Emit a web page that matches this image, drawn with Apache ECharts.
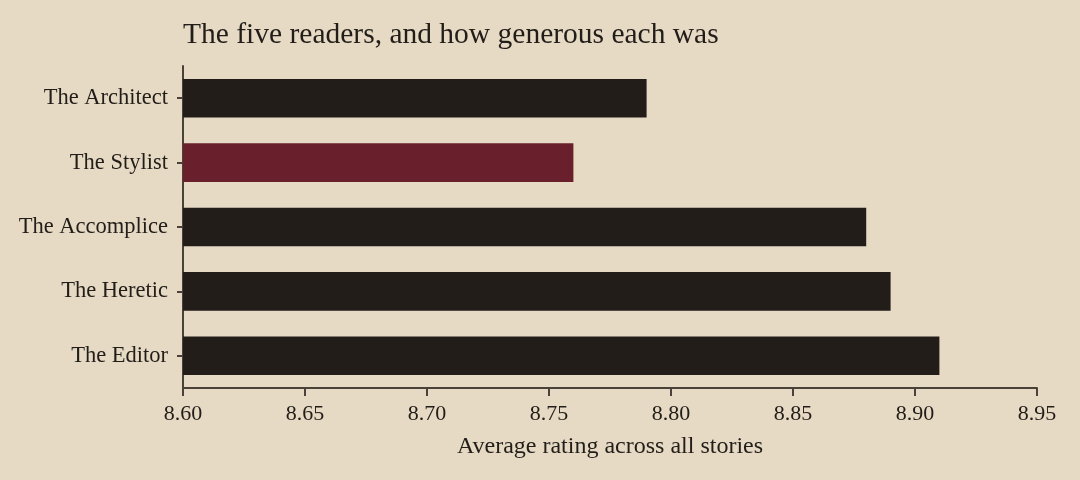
<!DOCTYPE html>
<html style="height: 100%">
<head>
  <meta charset="utf-8">
  <script src="https://cdn.jsdelivr.net/npm/echarts@6/dist/echarts.min.js"></script>
</head>
<body style="height: 100%; margin: 0; background: #e6dac4">
  <div id="container" style="width: 1080px; height: 480px"></div>
  <script type="text/javascript">
var readers = ['The Architect', 'The Stylist', 'The Accomplice', 'The Heretic', 'The Editor'];
var ratings = [8.79, 8.76, 8.88, 8.89, 8.91];
var highlight = 'The Stylist';

var fontFamily = 'Liberation Serif, serif';
var ink = '#221d18';
var axisColor = '#4a4239';

var chart = echarts.init(document.getElementById('container'));
chart.setOption({
    backgroundColor: '#e6dac4',
    animation: false,
    title: {
        text: 'The five readers, and how generous each was',
        left: 178,
        top: 15,
        textStyle: { fontFamily: fontFamily, fontSize: 29.5, fontWeight: 'normal', color: ink }
    },
    grid: { left: 183, right: 43, top: 66, bottom: 92 },
    xAxis: {
        type: 'value',
        min: 8.6,
        max: 8.95,
        interval: 0.05,
        name: 'Average rating across all stories',
        nameLocation: 'middle',
        nameGap: 47,
        nameTextStyle: { fontFamily: fontFamily, fontSize: 24, color: ink },
        axisLine: { show: true, lineStyle: { color: axisColor, width: 2 } },
        axisTick: { show: true, length: 8, lineStyle: { color: axisColor, width: 2 } },
        axisLabel: {
            fontFamily: fontFamily, fontSize: 22, color: ink, margin: 15,
            formatter: function (v) { return v.toFixed(2); }
        },
        splitLine: { show: false }
    },
    yAxis: {
        type: 'category',
        data: readers,
        inverse: true,
        axisLine: { show: true, lineStyle: { color: axisColor, width: 2 } },
        axisTick: { show: true, alignWithLabel: true, length: 6, lineStyle: { color: axisColor, width: 2 } },
        axisLabel: { fontFamily: fontFamily, fontSize: 22.5, color: ink, margin: 15 }
    },
    series: [{
        type: 'bar',
        barWidth: '60%',
        data: readers.map(function (name, i) {
            return {
                value: ratings[i],
                itemStyle: { color: name === highlight ? '#6a1f2c' : ink }
            };
        })
    }]
});
  </script>
</body>
</html>
